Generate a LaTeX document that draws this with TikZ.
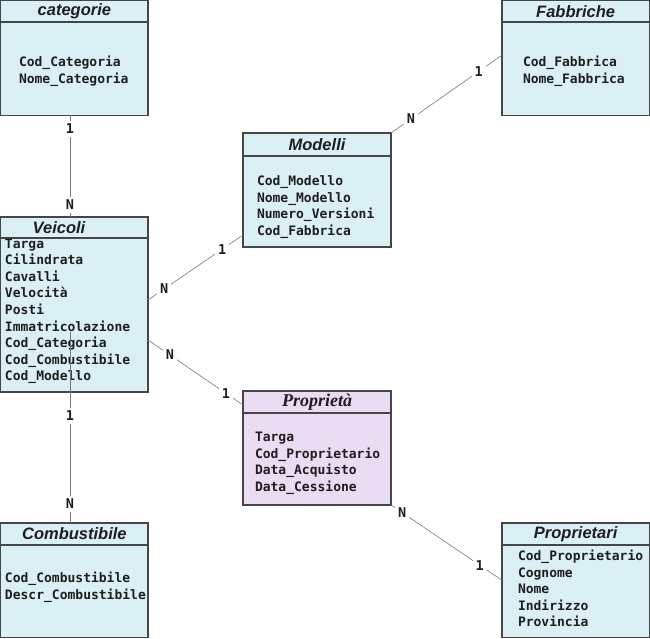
\documentclass[tikz,border=0pt]{standalone}
\usepackage{fontspec}
\setmainfont{Liberation Sans}
\newfontfamily\attrfont{DejaVu Sans Mono}
\newfontfamily\serifttl{Liberation Serif}
\definecolor{entfill}{RGB}{218,240,245}
\definecolor{propfill}{RGB}{233,220,243}
\definecolor{entline}{RGB}{70,70,70}
\definecolor{relline}{RGB}{120,120,120}
\definecolor{txt}{RGB}{30,30,30}
\begin{document}
\begin{tikzpicture}[x=1pt,y=-1pt,
  ent/.style={draw=entline, line width=1.1pt, fill=entfill, rectangle, inner sep=0pt, outer sep=0pt, anchor=north west},
  hdr/.style={draw=entline, line width=1.1pt, rectangle, inner sep=0pt, outer sep=0pt, anchor=north west, text=txt, font=\fontsize{16.5}{18}\selectfont\bfseries\itshape},
  attr/.style={anchor=north west, inner sep=0pt, outer sep=0pt, align=left, text=txt, font=\attrfont\fontsize{13}{16.6}\selectfont\bfseries},
  rel/.style={draw=relline, line width=0.6pt},
  card/.style={fill=white, inner sep=2.8pt, text=txt, font=\attrfont\fontsize{13.5}{13.5}\selectfont\bfseries}]
\fill[white] (0,0) rectangle (650,639);
\useasboundingbox (0,0) rectangle (650,639);

% categorie
\node[ent, minimum width=147.3pt, minimum height=114.8pt] (cat) at (0.7,0.7) {};
\node[hdr, minimum width=147.3pt, minimum height=21.3pt] (catH) at (cat.north west) {categorie};
\node[attr] (catA) at (19,56) {\rule{0pt}{11pt}Cod\_Categoria\\Nome\_Categoria};

% Fabbriche
\node[ent, minimum width=147.3pt, minimum height=114.8pt] (fab) at (502,0.7) {};
\node[hdr, minimum width=147.3pt, minimum height=21.3pt] (fabH) at (fab.north west) {Fabbriche};
\node[attr] (fabA) at (523,56) {\rule{0pt}{11pt}Cod\_Fabbrica\\Nome\_Fabbrica};

% Modelli
\node[ent, minimum width=148pt, minimum height=114pt] (mod) at (243,133) {};
\node[hdr, minimum width=148pt, minimum height=23pt] (modH) at (mod.north west) {Modelli};
\node[attr] (modA) at (257,174.5) {\rule{0pt}{11pt}Cod\_Modello\\Nome\_Modello\\Numero\_Versioni\\Cod\_Fabbrica};

% Veicoli
\node[ent, minimum width=147.3pt, minimum height=175pt] (veic) at (0.7,217) {};
\node[hdr, minimum width=147.3pt, minimum height=21pt] (veicH) at (veic.north west) {Veicoli\hspace*{30.7pt}};
\node[attr] (veicA) at (5,237) {\rule{0pt}{11pt}Targa\\Cilindrata\\Cavalli\\Velocità\\Posti\\Immatricolazione\\Cod\_Categoria\\Cod\_Combustibile\\Cod\_Modello};

% Proprieta
\node[ent, fill=propfill, minimum width=148pt, minimum height=114pt] (prop) at (243,391) {};
\node[hdr, minimum width=148pt, minimum height=22pt, font=\serifttl\fontsize{18}{20}\selectfont\bfseries\itshape] (propH) at (prop.north west) {Proprietà};
\node[attr] (propA) at (255,430.5) {\rule{0pt}{11pt}Targa\\Cod\_Proprietario\\Data\_Acquisto\\Data\_Cessione};

% Combustibile
\node[ent, minimum width=147.3pt, minimum height=114.5pt] (comb) at (0.7,523) {};
\node[hdr, minimum width=147.3pt, minimum height=22pt] (combH) at (comb.north west) {Combustibile};
\node[attr] (combA) at (5,571.5) {\rule{0pt}{11pt}Cod\_Combustibile\\Descr\_Combustibile};

% Proprietari
\node[ent, minimum width=147.3pt, minimum height=114.5pt] (propr) at (502,523) {};
\node[hdr, minimum width=147.3pt, minimum height=22pt] (proprH) at (propr.north west) {Proprietari};
\node[attr] (proprA) at (518,549.5) {\rule{0pt}{11pt}Cod\_Proprietario\\Cognome\\Nome\\Indirizzo\\Provincia};

% relationships
\draw[rel] ([xshift=-4.35pt]cat.south) -- node[card,pos=0.133] (r1a) {1} node[card,pos=0.882] (r1b) {N} ([xshift=-4.35pt]veic.north);
\draw[rel] ([xshift=-4.35pt,yshift=60pt]veic.south) -- node[card,pos=0.44] (r2a) {1} node[card,pos=0.90] (r2b) {N} ([xshift=-4.35pt]comb.north);
\draw[rel] ([yshift=4.5pt]veic.east) -- node[card,pos=0.17] (r3a) {N} node[card,pos=0.78] (r3b) {1} ([yshift=12pt]mod.south west);
\draw[rel] (mod.north east) -- node[card,pos=0.18] (r4a) {N} node[card,pos=0.79] (r4b) {1} ([yshift=3pt]fab.west);
\draw[rel] ([yshift=-35.5pt]veic.east) -- node[card,pos=0.23] (r5a) {N} node[card,pos=0.82] (r5b) {1} ([yshift=-14pt]prop.north west);
\draw[rel] (prop.south east) -- node[card,pos=0.10] (r6a) {N} node[card,pos=0.80] (r6b) {1} (propr.west);
\end{tikzpicture}
\end{document}
